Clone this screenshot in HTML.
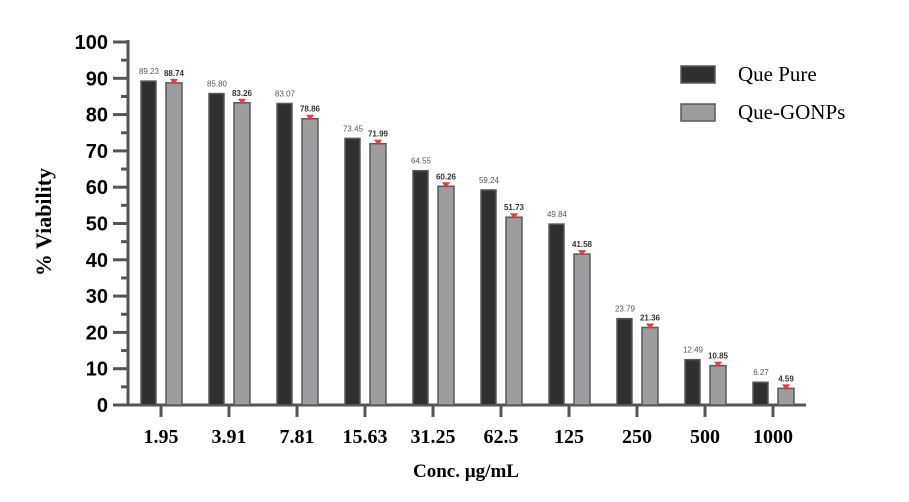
<!DOCTYPE html>
<html><head><meta charset="utf-8"><style>
html,body{margin:0;padding:0;background:#fff;width:909px;height:502px;overflow:hidden}
svg text{font-family:"Liberation Serif",serif}
</style></head><body>
<svg id="chart" width="909" height="502"></svg>
<script>
const categories=["1.95","3.91","7.81","15.63","31.25","62.5","125","250","500","1000"];
const quePure=[89.23,85.80,83.07,73.45,64.55,59.24,49.84,23.79,12.49,6.27];
const queGonps=[88.74,83.26,78.86,71.99,60.26,51.73,41.58,21.36,10.85,4.59];
const yTicks=[0,10,20,30,40,50,60,70,80,90,100];
const NS="http://www.w3.org/2000/svg";
const svg=document.getElementById('chart');
const y0=405,y100=42,axX=128,axEnd=806;
const yS=v=>y0-(y0-y100)*v/100;
const xS=i=>161+i*68;
function mk(t,a,txt){const e=document.createElementNS(NS,t);for(const k in a)e.setAttribute(k,a[k]);if(txt!==undefined)e.textContent=txt;svg.appendChild(e);return e;}
let e;
e=mk('line',{x1:axX,y1:y100-2,x2:axX,y2:y0+1,stroke:'#555','stroke-width':3});


e=mk('line',{x1:axX-1,y1:y0,x2:axEnd,y2:y0,stroke:'#555','stroke-width':3});


for(let v=5;v<100;v+=10){e=mk('line',{x1:axX-7,y1:yS(v),x2:axX,y2:yS(v),stroke:'#555','stroke-width':3});

}
yTicks.forEach(v=>{
e=mk('line',{x1:axX-15,y1:yS(v),x2:axX,y2:yS(v),stroke:'#555','stroke-width':3});


e=mk('text',{x:108,y:yS(v)+7,'text-anchor':'end','font-size':20,'font-weight':'bold',style:'font-family:Liberation Sans,sans-serif'},v);


});
categories.forEach((c,i)=>{
const x=xS(i);
e=mk('line',{x1:x,y1:y0,x2:x,y2:y0+12,stroke:'#555','stroke-width':3});


e=mk('text',{x:x,y:443,'text-anchor':'middle','font-size':20,'font-weight':'bold'},c);


const a=quePure[i],b=queGonps[i];
e=mk('rect',{x:x-20,y:yS(a),width:15,height:y0-yS(a),fill:'#303030',stroke:'#5a5a5a','stroke-width':1.5});


e=mk('text',{x:x-12,y:yS(a)-7,'text-anchor':'middle','font-size':8,fill:'#555',style:'font-family:Liberation Sans,sans-serif'},a.toFixed(2));


e=mk('rect',{x:x+5,y:yS(b),width:16,height:y0-yS(b),fill:'#9d9d9f',stroke:'#5a5a5a','stroke-width':1.5});


e=mk('path',{d:`M${x+9},${yS(b)-4}L${x+17},${yS(b)-4}L${x+13},${yS(b)+2}Z`,fill:'#f03a3a'});


e=mk('text',{x:x+13,y:yS(b)-7,'text-anchor':'middle','font-size':8,'font-weight':'bold',fill:'#333',style:'font-family:Liberation Sans,sans-serif'},b.toFixed(2));


});
e=mk('text',{x:466,y:477,'text-anchor':'middle','font-size':19,'font-weight':'bold'},'Conc. µg/mL');


e=mk('text',{x:0,y:0,'text-anchor':'middle','font-size':22,'font-weight':'bold',transform:'translate(51,222) rotate(-90)'},'% Viability');


e=mk('rect',{x:681,y:66,width:34,height:17,fill:'#303030',stroke:'#5a5a5a','stroke-width':1.5});


e=mk('text',{x:738,y:81,'font-size':21},'Que Pure');


e=mk('rect',{x:681,y:104,width:34,height:17,fill:'#9d9d9f',stroke:'#5a5a5a','stroke-width':1.5});


e=mk('text',{x:738,y:119,'font-size':21},'Que-GONPs');


</script>
</body></html>
